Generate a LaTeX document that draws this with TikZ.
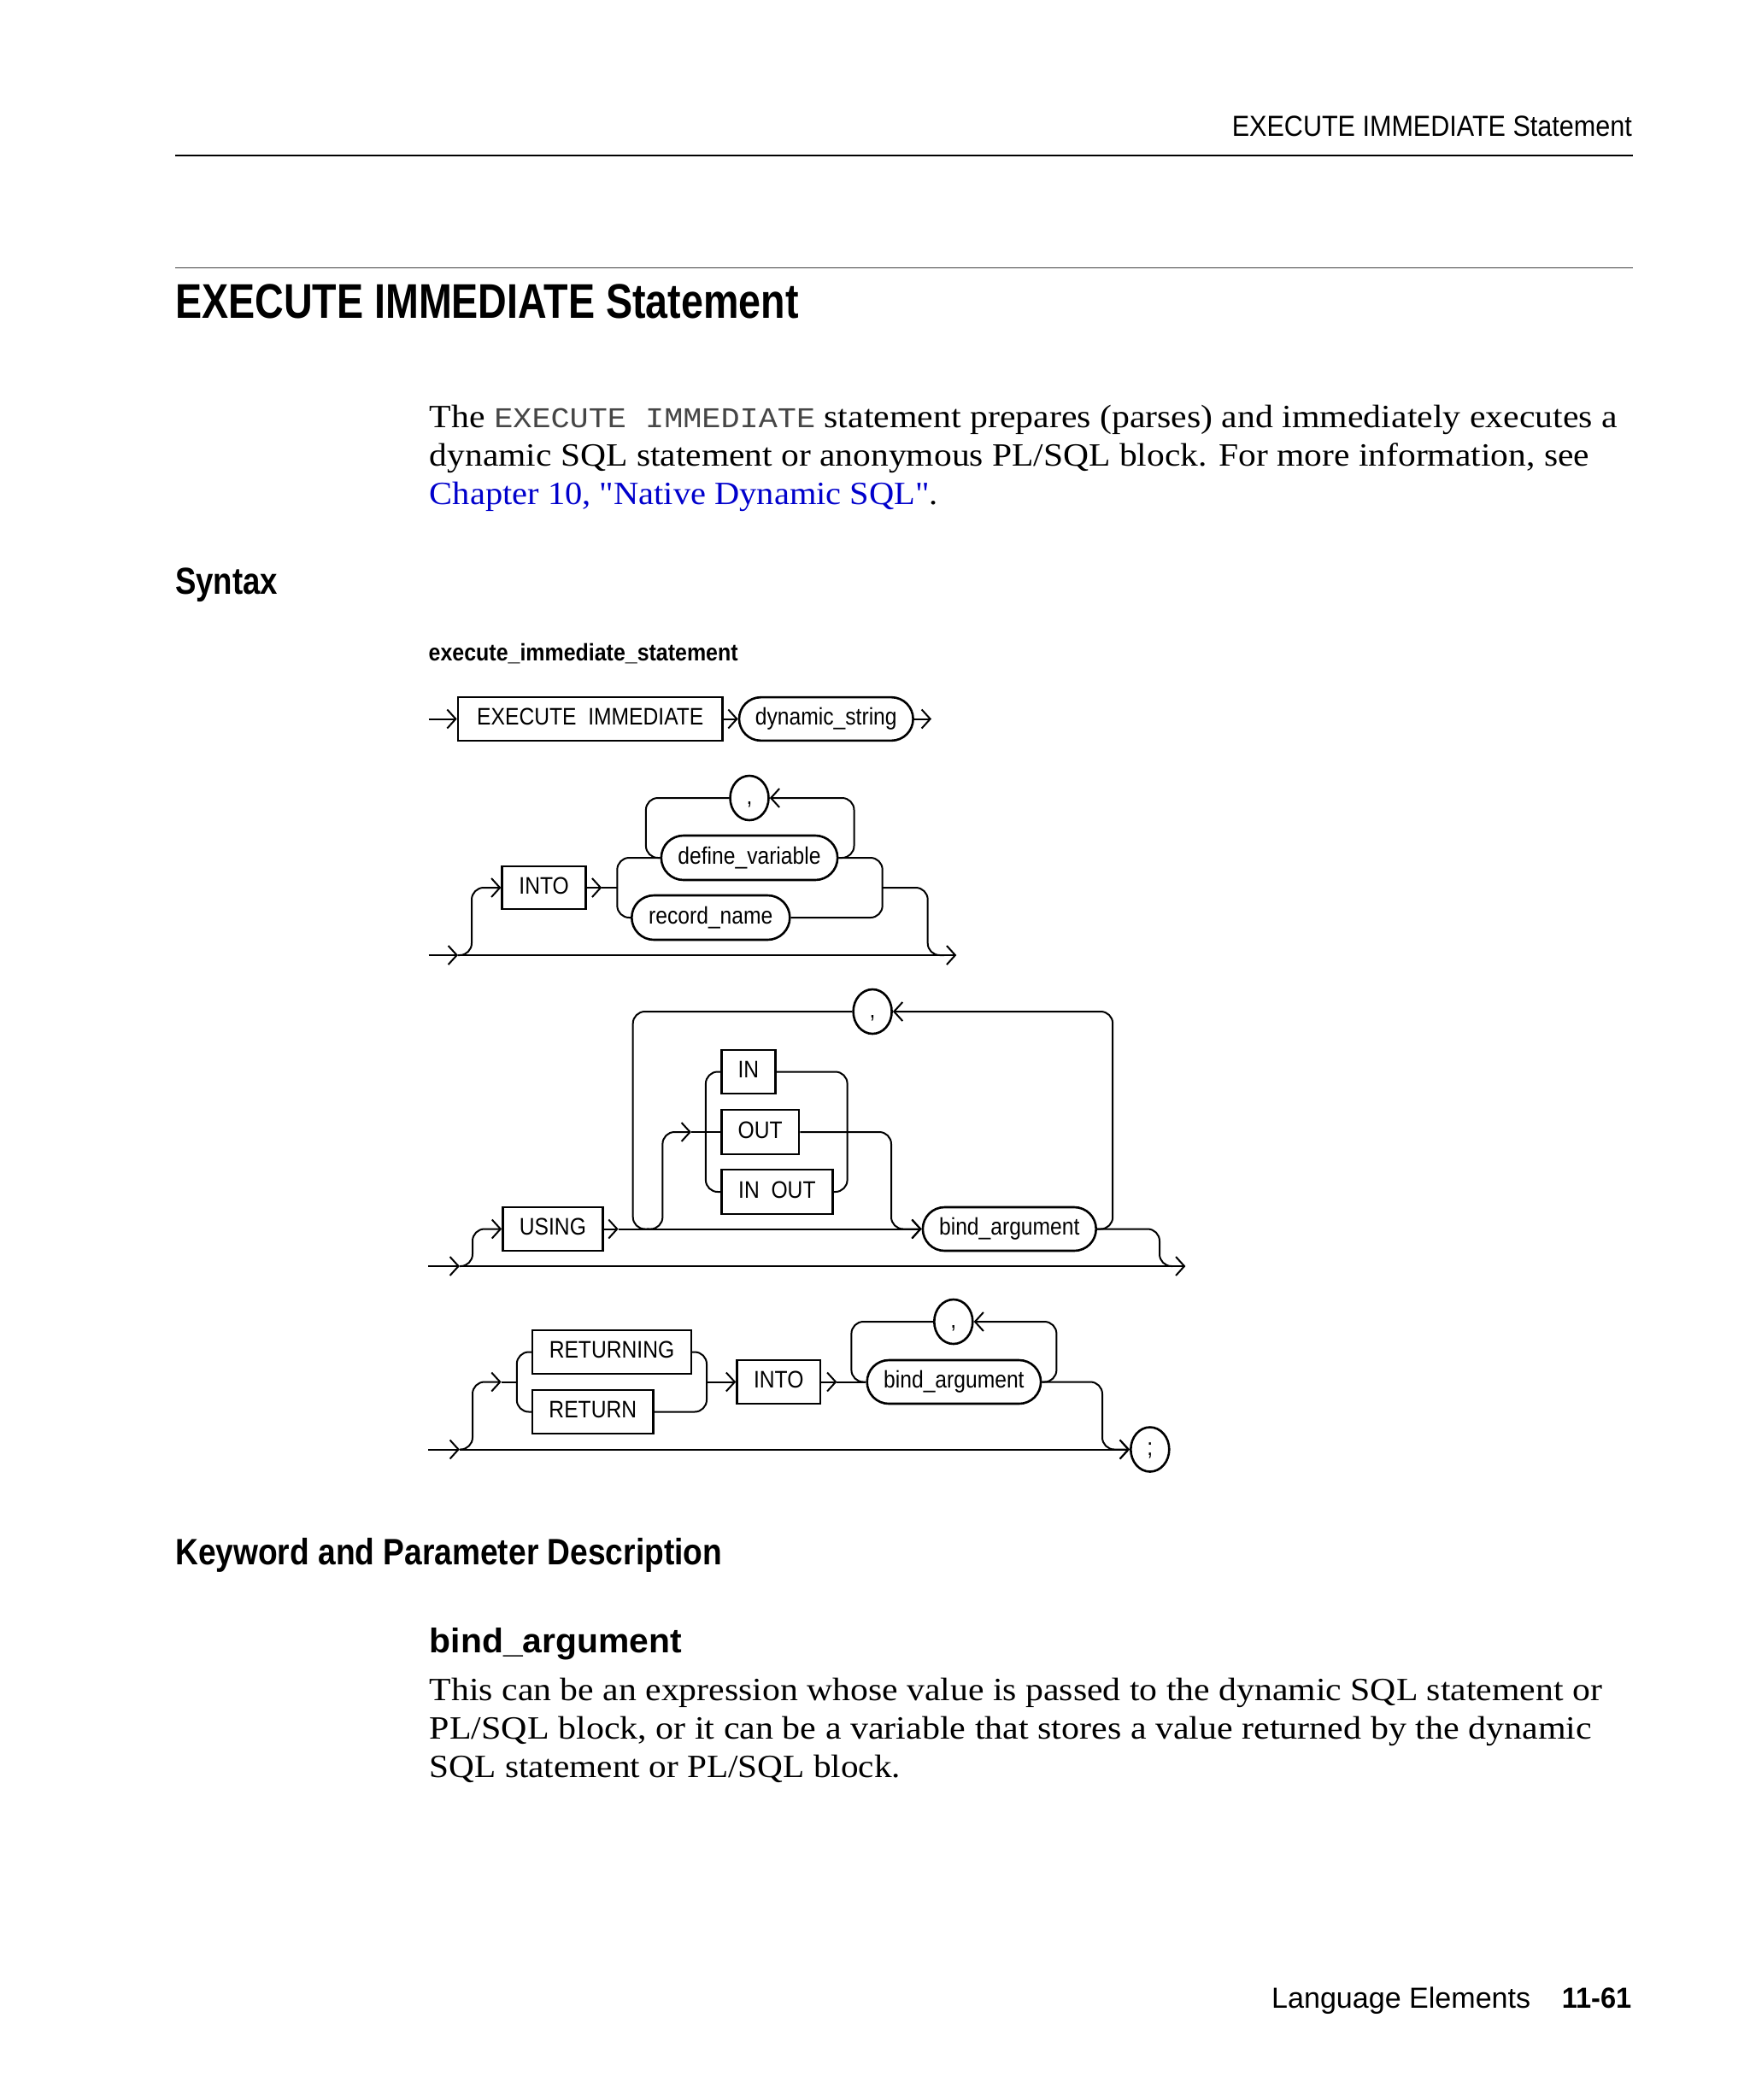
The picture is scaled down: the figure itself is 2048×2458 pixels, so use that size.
\documentclass[tikz,border=0pt]{standalone}
\usepackage{fontspec}
\usepackage{graphicx}
\usetikzlibrary{arrows.meta,shapes.misc,shapes.geometric}
\setmainfont{Liberation Serif}[Ligatures=TeXOff]
\newfontfamily\diagfont[FakeStretch=0.88]{Liberation Sans}
\newfontfamily\hsans{Liberation Sans}
\newfontfamily\hmono{Liberation Mono}
\definecolor{linkblue}{RGB}{0,0,204}
\definecolor{monogray}{RGB}{70,70,70}
\newcommand{\setfs}[1]{\fontsize{#1}{#1}\selectfont}
\newcommand{\fitw}[2]{\resizebox{#1}{\height}{#2}}
\tikzset{
  ln/.style={line width=2pt, rounded corners=14pt},
  arr/.style={ln, -{Straight Barb[length=10pt,width=22pt]}},
  lbl/.style={inner sep=0pt, font=\diagfont\setfs{28}, text height=20pt, text depth=6pt},
  kw/.style={lbl, draw, rectangle, line width=2.6pt},
  nt/.style={lbl, draw, rounded rectangle, line width=2.6pt},
  sepn/.style={lbl, draw, ellipse, line width=2.6pt, minimum width=45pt, minimum height=52pt},
  txtw/.style={anchor=base west, inner sep=0pt},
  txte/.style={anchor=base east, inner sep=0pt},
  rule/.style={line width=1.8pt}
}
\begin{document}
\begin{tikzpicture}[x=1pt,y=-1pt]
\useasboundingbox (0,0) rectangle (2048,2458);
\fill[white] (0,0) rectangle (2048,2458);

% ---------- page header ----------
\node[txte] (hdr) at (1910,159.3) {\fitw{468pt}{\hsans\setfs{34}EXECUTE IMMEDIATE Statement}};
\draw[rule] (205,182.3) -- (1911,182.3);
\draw[rule, black!75] (205,313.5) -- (1911,313.5);
\node[txtw] (ttl) at (205,372.7) {\fitw{729.5pt}{\hsans\bfseries\setfs{57}EXECUTE IMMEDIATE Statement}};

% ---------- intro paragraph ----------
\node[txtw, font=\setfs{38}] (p1) at (502.7,500) {\fitw{1390pt}{The {\hmono\color{monogray}\setfs{33.5}EXECUTE IMMEDIATE} statement prepares (parses) and immediately executes a}};
\node[txtw, font=\setfs{38}] (p2) at (502.7,545) {\fitw{1357pt}{dynamic SQL statement or anonymous PL/SQL block. For more information, see}};
\node[txtw, font=\setfs{38}] (p3) at (502.7,590) {\fitw{595pt}{{\color{linkblue}Chapter 10, "Native Dynamic SQL"}.}};

\node[txtw] (syn) at (205,695) {\fitw{120pt}{\hsans\bfseries\setfs{44}Syntax}};
\node[txtw] (dtitle) at (501.5,773) {\fitw{362pt}{\hsans\bfseries\setfs{28}execute\_immediate\_statement}};

% ---------- row 1 ----------
\coordinate (r1s) at (501.5,841.5);
\coordinate (r1e) at (1090,841.5);
\node[kw, minimum width=309.6pt, minimum height=50.7pt] (exe) at (690.8,841.5) {EXECUTE\ \ IMMEDIATE};
\node[nt, minimum width=203.6pt, minimum height=50.7pt] (dyn) at (966.8,841.5) {dynamic\_string};
\draw[arr] (r1s) -- (exe.west);
\draw[arr] (exe.east) -- (dyn.west);
\draw[arr] (dyn.east) -- (r1e);

% ---------- row 2 : INTO ----------
\coordinate (r2s) at (501.5,1118);
\coordinate (r2a) at (536,1118);
\coordinate (r2e) at (1119.3,1118);
\draw[arr] (r2s) -- (r2a);
\draw[arr] (r2a) -- (r2e);
\node[kw, minimum width=97.8pt, minimum height=50pt] (into1) at (636.6,1039) {INTO};
\draw[arr] (r2a) -- (552,1118) -- (552,1039) -- (into1.west);
\coordinate (i1a) at (704.3,1039);
\coordinate (i1s) at (722.3,1039);
\draw[arr] (into1.east) -- (i1a);
\draw[ln] (i1a) -- (i1s);
\node[nt, minimum width=206.3pt, minimum height=52pt] (dv) at (877,1004) {define\_variable};
\node[nt, minimum width=185pt, minimum height=52pt] (rn) at (831.8,1074) {record\_name};
\draw[ln] (dv.west) -- (722.3,1004) -- (722.3,1074) -- (rn.west);
\draw[ln] (dv.east) -- (1032.7,1004) -- (1032.7,1074) -- (rn.east);
\coordinate (i1j) at (1032.7,1039);
\coordinate (i1m) at (1105,1118);
\draw[ln] (i1j) -- (1085.7,1039) -- (1085.7,1118) -- (i1m);
\node[sepn] (c1) at (877,934) {,};
\draw[arr] (dv.east) -- (999.5,1004) -- (999.5,934) -- (c1.east);
\draw[ln] (c1.west) -- (755.9,934) -- (755.9,1004) -- (dv.west);

% ---------- row 3 : USING ----------
\coordinate (r3s) at (501.3,1482);
\coordinate (r3a) at (537.9,1482);
\coordinate (r3e) at (1387.4,1482);
\draw[arr] (r3s) -- (r3a);
\draw[arr] (r3a) -- (r3e);
\node[kw, minimum width=117pt, minimum height=51pt] (using) at (646.9,1438.5) {USING};
\draw[arr] (r3a) -- (553,1482) -- (553,1438.5) -- (using.west);
\coordinate (ua) at (723.6,1438.5);
\draw[arr] (using.east) -- (ua);
\node[nt, minimum width=202.8pt, minimum height=51pt] (bind1) at (1181.3,1438.5) {bind\_argument};
\draw[arr] (ua) -- (bind1.west);
\coordinate (b1m) at (1372,1482);
\draw[ln] (bind1.east) -- (1357,1438.5) -- (1357,1482) -- (b1m);
\node[sepn] (c2) at (1021.1,1184) {,};
\draw[arr] (bind1.east) -- (1302.2,1438.5) -- (1302.2,1184) -- (c2.east);
\coordinate (c2m) at (760,1438.5);
\draw[ln] (c2.west) -- (740.7,1184) -- (740.7,1438.5) -- (c2m);
\node[kw, minimum width=63.3pt, minimum height=51pt] (mIn) at (875.9,1254.5) {IN};
\node[kw, minimum width=90.8pt, minimum height=52pt] (mOut) at (889.6,1325) {OUT};
\node[kw, minimum width=130.3pt, minimum height=52pt] (mInOut) at (909.4,1395) {IN\ \ OUT};
\coordinate (mb) at (757,1438.5);
\coordinate (ma) at (808.9,1325);
\draw[arr] (mb) -- (775.4,1438.5) -- (775.4,1325) -- (ma);
\draw[ln] (ma) -- (mOut.west);
\draw[ln] (mIn.west) -- (825.9,1254.5) -- (825.9,1395) -- (mInOut.west);
\draw[ln] (mIn.east) -- (991.6,1254.5) -- (991.6,1395) -- (mInOut.east);
\draw[arr] (mOut.east) -- (1043,1325) -- (1043,1438.5) -- (bind1.west);

% ---------- row 4 : RETURNING ----------
\coordinate (r4s) at (501.3,1696.5);
\coordinate (r4a) at (537.9,1696.5);
\node[sepn] (semi) at (1345.8,1696.5) {;};
\draw[arr] (r4s) -- (r4a);
\draw[arr] (r4a) -- (semi.west);
\coordinate (r4b) at (586.6,1617.5);
\coordinate (r4c) at (604.8,1617.5);
\draw[arr] (r4a) -- (553,1696.5) -- (553,1617.5) -- (r4b);
\draw[ln] (r4b) -- (r4c);
\node[kw, minimum width=185.8pt, minimum height=51pt] (retng) at (716,1582.5) {RETURNING};
\node[kw, minimum width=141.3pt, minimum height=51pt] (ret) at (693.8,1652.5) {RETURN};
\draw[ln] (retng.west) -- (604.8,1582.5) -- (604.8,1652.5) -- (ret.west);
\draw[ln] (retng.east) -- (827,1582.5) -- (827,1652.5) -- (ret.east);
\node[kw, minimum width=97.4pt, minimum height=51pt] (into2) at (911.2,1617.5) {INTO};
\coordinate (r4d) at (827,1617.5);
\draw[arr] (r4d) -- (into2.west);
\coordinate (i2a) at (979.4,1617.5);
\draw[arr] (into2.east) -- (i2a);
\node[nt, minimum width=203.4pt, minimum height=51pt] (bind2) at (1116.4,1617.5) {bind\_argument};
\draw[ln] (i2a) -- (bind2.west);
\node[sepn] (c3) at (1115.8,1547) {,};
\draw[arr] (bind2.east) -- (1236.4,1617.5) -- (1236.4,1547) -- (c3.east);
\draw[ln] (c3.west) -- (996.4,1547) -- (996.4,1617.5) -- (bind2.west);
\draw[arr] (bind2.east) -- (1290,1617.5) -- (1290,1696.5) -- (semi.west);

% ---------- keyword description ----------
\node[txtw] (kwh) at (205,1831) {\fitw{640pt}{\hsans\bfseries\setfs{43}Keyword and Parameter Description}};
\node[txtw] (bah) at (502.7,1934) {\fitw{295pt}{\hsans\bfseries\setfs{40}bind\_argument}};
\node[txtw, font=\setfs{38}] (q1) at (502.7,1990) {\fitw{1372pt}{This can be an expression whose value is passed to the dynamic SQL statement or}};
\node[txtw, font=\setfs{38}] (q2) at (502.7,2035) {\fitw{1360pt}{PL/SQL block, or it can be a variable that stores a value returned by the dynamic}};
\node[txtw, font=\setfs{38}] (q3) at (502.7,2080) {\fitw{551pt}{SQL statement or PL/SQL block.}};

% ---------- footer ----------
\node[txtw] (ft1) at (1488,2350) {\fitw{303pt}{\hsans\setfs{34}Language Elements}};
\node[txte] (ft2) at (1909.5,2350) {\fitw{81.5pt}{\hsans\bfseries\setfs{34}11-61}};
\end{tikzpicture}
\end{document}
